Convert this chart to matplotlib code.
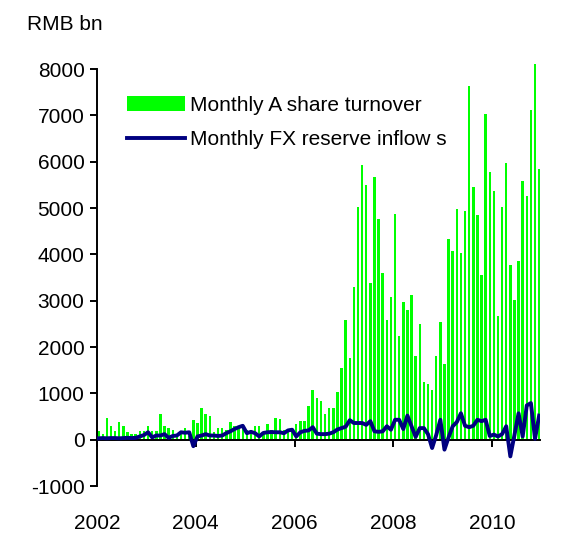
import numpy as np
import matplotlib.pyplot as plt

plt.rcParams['font.family'] = ['Liberation Sans', 'DejaVu Sans']
plt.rcParams['axes.unicode_minus'] = False

# monthly figures, Jan 2002 - Dec 2010, RMB bn
turnover = [
    180, 120, 470, 300, 180, 390, 300, 170, 130, 130, 180, 180,        # 2002
    300, 180, 180, 560, 300, 250, 215, 110, 145, 250, 90, 430,         # 2003
    360, 680, 560, 520, 170, 260, 260, 215, 390, 300, 300, 300,        # 2004
    215, 215, 300, 300, 130, 345, 215, 475, 440, 215, 215, 260,        # 2005
    330, 400, 400, 730, 1080, 900, 830, 560, 680, 680, 1040, 1545,     # 2006
    2590, 1760, 3290, 5020, 5930, 5500, 3380, 5660, 4760, 3600, 2590, 3080,  # 2007
    4870, 2245, 2970, 2800, 3120, 1810, 2500, 1250, 1210, 1080, 1810, 2545,  # 2008
    1640, 4340, 4080, 4980, 4040, 4940, 7640, 5460, 4850, 3560, 7030, 5770,  # 2009
    5370, 2670, 5030, 5970, 3770, 3020, 3860, 5590, 5250, 7120, 8110, 5850,  # 2010
]
fx_inflow = [
    30, 35, 30, 35, 35, 30, 35, 40, 35, 40, 70, 100,
    160, 50, 90, 90, 120, 40, 80, 90, 160, 150, 160, -140,
    70, 90, 120, 90, 90, 80, 90, 140, 180, 230, 270, 300,
    140, 170, 140, 70, 145, 160, 165, 160, 160, 140, 200, 215,
    70, 160, 190, 200, 270, 130, 120, 120, 130, 160, 220, 250,
    280, 420, 360, 360, 360, 320, 400, 180, 170, 180, 290, 215,
    430, 430, 230, 520, 290, 60, 250, 250, 120, -180, 100, 430,
    -215, 50, 290, 380, 570, 300, 270, 300, 430, 400, 430, 80,
    110, 70, 120, 290, -360, 100, 570, 70, 740, 790, 20, 520,
]
year_labels = ['2002', '2004', '2006', '2008', '2010']
year_ticks = [0, 24, 48, 72, 96]   # month index of each January

months = np.arange(len(turnover)) + 0.4

fig = plt.figure(figsize=(5.66, 5.48), dpi=100)
ax = fig.add_axes([0.1714, 0.1131, 0.7826, 0.7609])

bars = ax.bar(months, turnover, width=0.6, color='#00ff00', clip_on=False,
              label='Monthly A share turnover', zorder=1)
line, = ax.plot(months, fx_inflow, color='#000080', lw=2.8, zorder=3,
                label='Monthly FX reserve inflow s')

ax.set_ylim(-1000, 8000)
ax.set_xlim(0, 107.6)
ax.set_yticks(range(-1000, 8001, 1000))

for s in ['top', 'right']:
    ax.spines[s].set_visible(False)
ax.spines['left'].set_linewidth(1.4)
ax.spines['bottom'].set_position(('data', 0))
ax.spines['bottom'].set_linewidth(1.4)

ax.set_xticks(year_ticks)
ax.tick_params(axis='x', direction='out', length=5, width=1.4, labelbottom=False)
ax.tick_params(axis='y', direction='out', length=5, width=1.4, pad=4, labelsize=15)

# year labels sit under the plot, not on the zero line
sec = ax.secondary_xaxis('bottom')
sec.set_xticks(year_ticks, labels=year_labels)
sec.tick_params(length=0, pad=20, labelsize=15)
sec.spines['bottom'].set_visible(False)

fig.text(27 / 566, 1 - 25 / 548, 'RMB bn', fontsize=15, va='center')

ax.legend(handles=[bars, line], loc='upper left',
          bbox_to_anchor=(127 / 566, 1 - 96 / 548),
          bbox_transform=fig.transFigure, frameon=False, fontsize=15,
          handlelength=2.8, handletextpad=0.2, labelspacing=0.72,
          borderpad=0, borderaxespad=0)

fig.savefig('out.png', dpi=100)
